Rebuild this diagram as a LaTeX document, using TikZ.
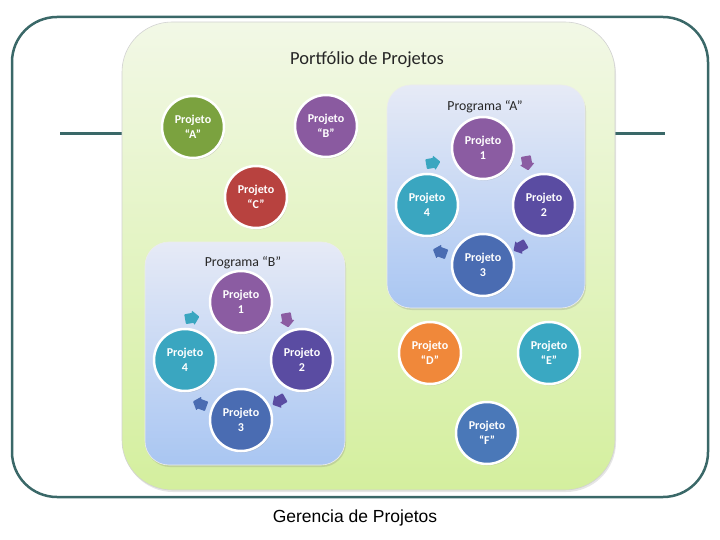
\documentclass[tikz,border=0pt]{standalone}
\usepackage{fontspec}
\setmainfont{Carlito}
\newfontfamily\capfont{Liberation Sans}
\usetikzlibrary{shadows}
\definecolor{frameC}{HTML}{3A6868}
\definecolor{cA}{HTML}{7BA23F}
\definecolor{cB}{HTML}{8A5AA0}
\definecolor{cC}{HTML}{B8423F}
\definecolor{cD}{HTML}{F0883A}
\definecolor{cE}{HTML}{3AA8C2}
\definecolor{cF}{HTML}{4A78B8}
\definecolor{p1}{HTML}{8B5CA2}
\definecolor{p2}{HTML}{5A4CA2}
\definecolor{p3}{HTML}{4A6CB2}
\definecolor{p4}{HTML}{3AA6C0}
\definecolor{blueTop}{HTML}{E6EAF6}
\definecolor{blueBot}{HTML}{A9C6F2}
\definecolor{greenTop}{HTML}{F2F8E6}
\definecolor{greenBot}{HTML}{D4EF9E}
\tikzset{
  proj/.style={circle, draw=white, line width=2.5pt, minimum size=62pt, inner sep=0pt,
    fill=#1, text=white, font=\bfseries\fontsize{12}{15}\selectfont, align=center,
    drop shadow={opacity=0.3, shadow xshift=1pt, shadow yshift=-1.5pt}},
  progbox/.style={rounded corners=24pt, draw=white!85!gray, line width=0.6pt,
    top color=blueTop, bottom color=blueBot,
    minimum width=198pt, minimum height=223pt,
    drop shadow={opacity=0.25, shadow xshift=1pt, shadow yshift=-2pt}},
  progtitle/.style={font=\fontsize{13.8}{15}\selectfont, text=black!85},
  blkarrow/.pic={\fill[#1, rounded corners=0.8pt] (-7,-5) -- (1,-5) -- (1,-7.5) -- (7.5,0) -- (1,7.5) -- (1,5) -- (-7,5) -- cycle;}
}
\begin{document}
\begin{tikzpicture}[x=1pt,y=-1pt]
\useasboundingbox (0,0) rectangle (720,540);
% outer frame
\draw[frameC, line width=2.5pt, rounded corners=45pt] (12,17) rectangle (708,497);
\coordinate (barL) at (60,134);
\coordinate (barR) at (665,134);
\draw[frameC, line width=3pt] (barL) -- (barR);
% portfolio box
\node[rounded corners=50pt, draw=gray!35, line width=0.6pt,
  top color=greenTop, bottom color=greenBot,
  minimum width=493pt, minimum height=468pt,
  drop shadow={opacity=0.2, shadow xshift=1pt, shadow yshift=-2pt}] (port) at (368.5,256) {};
\node[font=\fontsize{18.5}{20}\selectfont, text=black!85] (ptitle) at (367,60) {Portfólio de Projetos};
% program boxes
\node[progbox] (progA) at (486,196.5) {};
\node[progtitle] (tA) at (485,107) {Programa “A”};
\node[progbox, minimum width=200pt] (progB) at (245,353.5) {};
\node[progtitle] (tB) at (243,263) {Programa “B”};
% standalone projects
\node[proj=cA] (pA) at (193,127) {Projeto\\“A”};
\node[proj=cB] (pB) at (326,126) {Projeto\\“B”};
\node[proj=cC] (pC) at (256,197) {Projeto\\“C”};
\node[proj=cD] (pD) at (430,353) {Projeto\\“D”};
\node[proj=cE] (pE) at (549,353) {Projeto\\“E”};
\node[proj=cF] (pF) at (487,433) {Projeto\\“F”};
% program A projects
\node[proj=p1] (a1) at (483,148) {Projeto\\1};
\node[proj=p2] (a2) at (544,205) {Projeto\\2};
\node[proj=p3] (a3) at (483,265) {Projeto\\3};
\node[proj=p4] (a4) at (427,205) {Projeto\\4};
% program B projects
\node[proj=p1] (b1) at (241,302) {Projeto\\1};
\node[proj=p2] (b2) at (302,360) {Projeto\\2};
\node[proj=p3] (b3) at (241,420) {Projeto\\3};
\node[proj=p4] (b4) at (185,360) {Projeto\\4};
% cycle arrows A
\pic[rotate=10] at (433,163) {blkarrow=p4};
\pic[rotate=-80] at (527,163) {blkarrow=p1};
\pic[rotate=-150] at (520,247) {blkarrow=p2};
\pic[rotate=160] at (440,252) {blkarrow=p3};
% cycle arrows B
\pic[rotate=10] at (192,318) {blkarrow=p4};
\pic[rotate=-80] at (287,320) {blkarrow=p1};
\pic[rotate=-150] at (279,401) {blkarrow=p2};
\pic[rotate=160] at (200,404) {blkarrow=p3};
% caption
\node[font=\capfont\fontsize{17.5}{19}\selectfont] (cap) at (355,518) {Gerencia de Projetos};
\end{tikzpicture}
\end{document}
